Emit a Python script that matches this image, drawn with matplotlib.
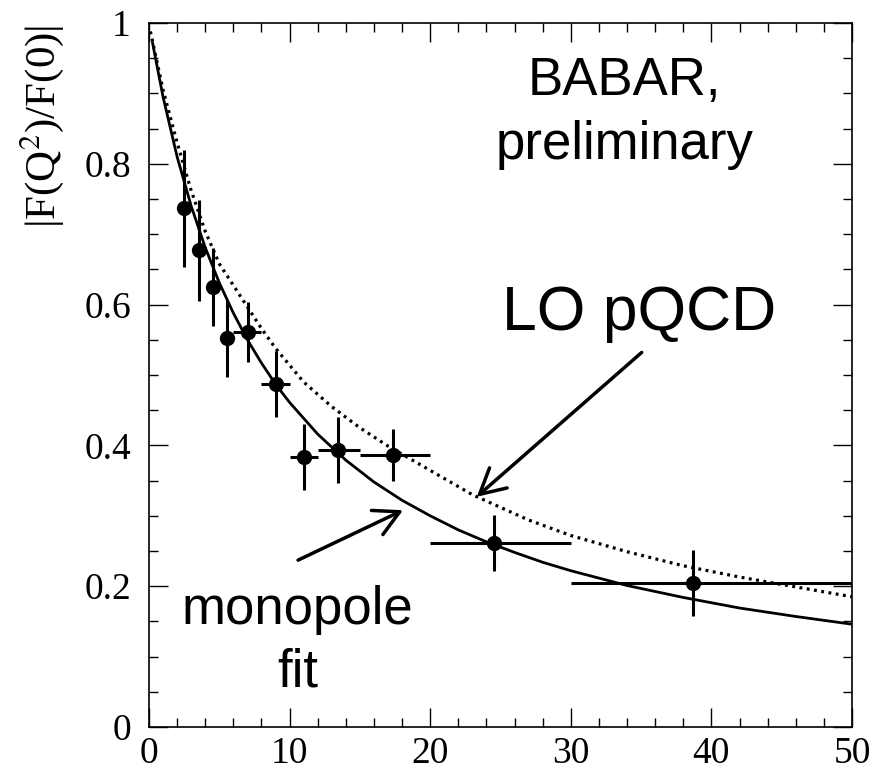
import numpy as np
import matplotlib
matplotlib.use("Agg")
import matplotlib.pyplot as plt
from matplotlib.ticker import MultipleLocator

# puntos BABAR
q2 = [2.51, 3.53, 4.57, 5.52, 7.02, 9.01, 11.05, 13.45, 17.38, 24.56, 38.71]
ff = [0.737, 0.677, 0.625, 0.552, 0.561, 0.487, 0.384, 0.394, 0.386, 0.261, 0.205]
ff_err = [0.083, 0.072, 0.056, 0.055, 0.043, 0.047, 0.047, 0.047, 0.037, 0.040, 0.047]
bin_lo = [2.51, 3.53, 4.57, 5.52, 6.0, 8.0, 10.0, 12.0, 15.0, 20.0, 30.0]
bin_hi = [2.51, 3.53, 4.57, 5.52, 8.0, 10.0, 12.0, 15.0, 20.0, 30.0, 50.0]

# ajuste monopolo (curva continua)
fit_x = [0.25, 1, 2, 3, 4, 5, 6, 7, 8, 9, 10, 12, 14, 16, 18, 20, 22, 24, 26, 28, 30,
         34, 38, 42, 46, 50]
fit_y = [0.972, 0.895, 0.810, 0.740, 0.681, 0.631, 0.588, 0.550, 0.517, 0.487, 0.461,
         0.416, 0.379, 0.348, 0.322, 0.300, 0.280, 0.263, 0.248, 0.234, 0.222,
         0.201, 0.184, 0.169, 0.157, 0.146]

# LO pQCD (curva punteada)
pqcd_x = [0.1, 1, 2, 3, 4, 5, 6.5, 8, 9, 11, 13, 15, 17, 19, 21, 23, 25, 27, 30,
          34, 38, 42, 46, 50]
pqcd_y = [0.988, 0.905, 0.830, 0.762, 0.704, 0.658, 0.612, 0.566, 0.538, 0.490, 0.455,
          0.425, 0.399, 0.376, 0.353, 0.330, 0.312, 0.294, 0.272, 0.249, 0.229,
          0.213, 0.199, 0.185]

serif = "Liberation Serif"
sans = "Liberation Sans"
plt.rcParams["mathtext.fontset"] = "stix"

fig = plt.figure(figsize=(8.75, 7.76), dpi=100)
ax = fig.add_axes([149 / 875, 49 / 776, 703 / 875, 704 / 776])

ax.plot(fit_x, fit_y, color="black", lw=2.0, solid_joinstyle="round")
ax.plot(pqcd_x, pqcd_y, color="black", lw=2.3, linestyle=(0, (0.9, 1.4)),
        dash_capstyle="butt")

xerr = [np.array(q2) - np.array(bin_lo), np.array(bin_hi) - np.array(q2)]
ax.errorbar(q2, ff, yerr=ff_err, xerr=xerr, fmt="o", color="black", ms=10,
            elinewidth=2.2, capsize=0)

ax.set_xlim(0, 50)
ax.set_ylim(0, 1)
ax.xaxis.set_major_locator(MultipleLocator(10))
ax.xaxis.set_minor_locator(MultipleLocator(2))
ax.yaxis.set_major_locator(MultipleLocator(0.2))
ax.yaxis.set_minor_locator(MultipleLocator(0.05))
ax.set_xticks([0, 10, 20, 30, 40, 50])
ax.set_xticklabels(["0", "10", "20", "30", "40", "50"])
ax.set_yticks([0, 0.2, 0.4, 0.6, 0.8, 1.0])
ax.set_yticklabels(["0", "0.2", "0.4", "0.6", "0.8", "1"])
ax.tick_params(which="both", direction="in", top=True, right=True, width=1.0)
ax.tick_params(which="major", length=13.5, labelsize=27)
ax.tick_params(axis="y", which="major", pad=13)
ax.tick_params(axis="x", which="major", pad=7)
ax.tick_params(which="minor", length=6.5)
for lab in ax.get_xticklabels() + ax.get_yticklabels():
    lab.set_fontfamily(serif)
for s in ax.spines.values():
    s.set_linewidth(1.2)

fig.text(42 / 875, 1 - 126 / 776, r"|F(Q$^2$)/F(0)|", rotation=90, ha="center",
         va="center", fontsize=31, family=serif)

ax.text(33.8, 0.898, "BABAR,", ha="center", va="baseline", fontsize=38, family=sans)
ax.text(33.8, 0.807, "preliminary", ha="center", va="baseline", fontsize=38, family=sans)
ax.text(34.85, 0.564, "LO pQCD", ha="center", va="baseline", fontsize=45, family=sans)
ax.text(10.56, 0.147, "monopole", ha="center", va="baseline", fontsize=38, family=sans)
ax.text(10.56, 0.057, "fit", ha="center", va="baseline", fontsize=38, family=sans)

arrow = dict(arrowstyle="->,head_length=0.6,head_width=0.32", lw=2.5, color="black",
             mutation_scale=30, shrinkA=0, shrinkB=0)
ax.annotate("", xy=(23.31, 0.327), xytext=(35.04, 0.532), arrowprops=arrow)
ax.annotate("", xy=(18.07, 0.308), xytext=(10.6, 0.237), arrowprops=arrow)

plt.savefig("out.png", dpi=100)
